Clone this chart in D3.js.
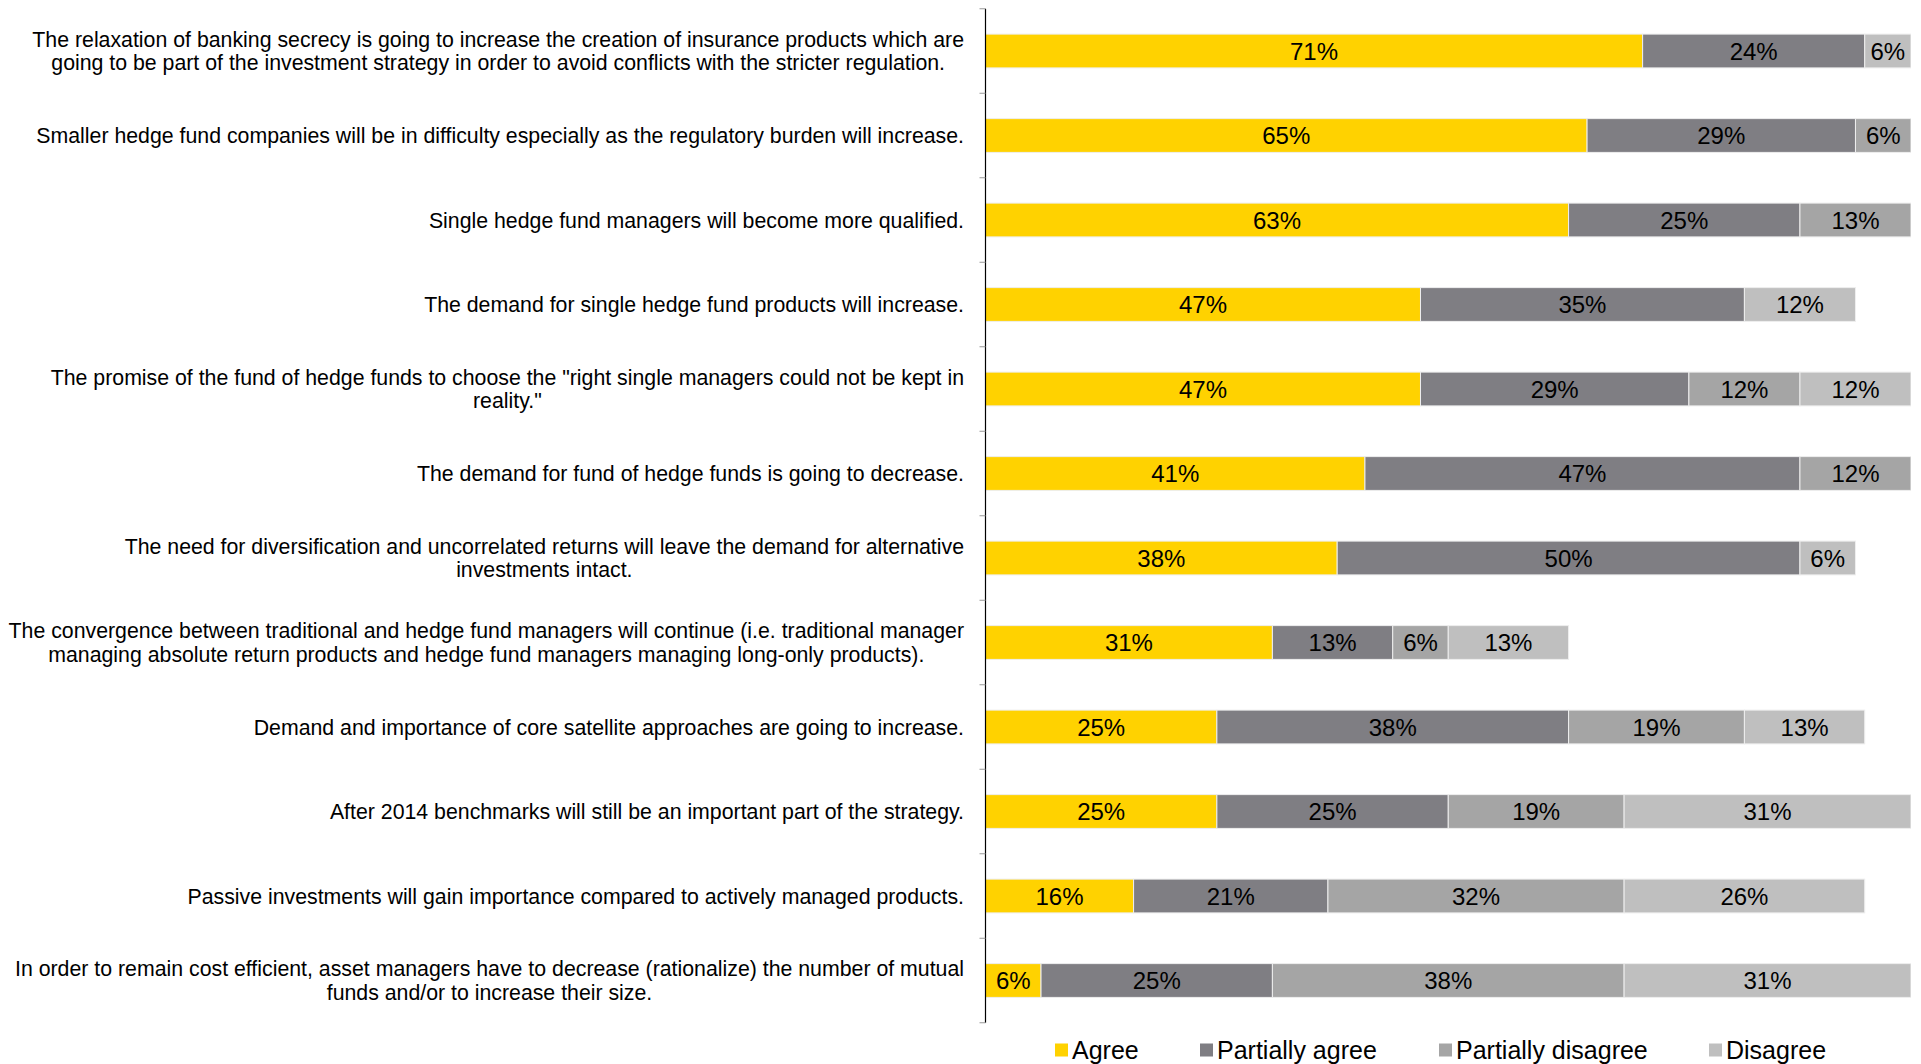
<!DOCTYPE html>
<html>
<head>
<meta charset="utf-8">
<script src="https://cdn.jsdelivr.net/npm/d3@7"></script>
<style>
  html, body { margin: 0; padding: 0; background: #ffffff; }
  svg { display: block; font-family: "Liberation Sans", Arial, Helvetica, sans-serif; }
</style>
</head>
<body>
<svg id="chart" width="1921" height="1064"></svg>
<script>
// Survey statements (one row each, top to bottom); "\n" marks a line break
const statements = [
  "The relaxation of banking secrecy is going to increase the creation of insurance products which are\ngoing to be part of the investment strategy in order to avoid conflicts with the stricter regulation.",
  "Smaller hedge fund companies will be in difficulty especially as the regulatory burden will increase.",
  "Single hedge fund managers will become more qualified.",
  "The demand for single hedge fund products will increase.",
  "The promise of the fund of hedge funds to choose the \"right single managers could not be kept in\nreality.\"",
  "The demand for fund of hedge funds is going to decrease.",
  "The need for diversification and uncorrelated returns will leave the demand for alternative\ninvestments intact.",
  "The convergence between traditional and hedge fund managers will continue (i.e. traditional manager\nmanaging absolute return products and hedge fund managers managing long-only products).",
  "Demand and importance of core satellite approaches are going to increase.",
  "After 2014 benchmarks will still be an important part of the strategy.",
  "Passive investments will gain importance compared to actively managed products.",
  "In order to remain cost efficient, asset managers have to decrease (rationalize) the number of mutual\nfunds and/or to increase their size."
];

const seriesNames = ["Agree", "Partially agree", "Partially disagree", "Disagree"];
const seriesColors = ["#ffd200", "#7f7e83", "#a5a5a5", "#bfbfbf"];

// Share of answers in percent, one value per statement
const agree             = [71, 65, 63, 47, 47, 41, 38, 31, 25, 25, 16, 6];
const partiallyAgree    = [24, 29, 25, 35, 29, 47, 50, 13, 38, 25, 21, 25];
const partiallyDisagree = [ 0,  6, 13,  0, 12, 12,  0,  6, 19, 19, 32, 38];
const disagree          = [ 6,  0,  0, 12, 12,  0,  6, 13, 13, 31, 26, 31];

const seriesValues = [agree, partiallyAgree, partiallyDisagree, disagree];

const rows = statements.map((s, i) => {
  const r = { id: i, label: s };
  seriesNames.forEach((n, k) => { r[n] = seriesValues[k][i]; });
  return r;
});

const svg = d3.select("#chart");

const axisX = 985.5;
const plotRight = 1911;
const plotTop = 8.75;
const plotBottom = 1022.75;

const x = d3.scaleLinear().domain([0, 100]).range([axisX, plotRight]);
const y = d3.scaleBand().domain(rows.map(d => d.id)).range([plotTop, plotBottom]).paddingInner(0.6).paddingOuter(0.3);
const color = d3.scaleOrdinal().domain(seriesNames).range(seriesColors);

const stacked = d3.stack().keys(seriesNames)(rows);

// Clip marks to the 0–100% range of the value axis
svg.append("defs").append("clipPath").attr("id", "plot-clip")
  .append("rect").attr("x", axisX).attr("y", 0).attr("width", plotRight - axisX).attr("height", 1064);

const barsG = svg.append("g").attr("clip-path", "url(#plot-clip)");

const layers = barsG.selectAll("g.layer").data(stacked).join("g")
  .attr("class", "layer")
  .attr("fill", d => color(d.key));

layers.selectAll("rect").data(d => d.filter(s => s[1] - s[0] > 0)).join("rect")
  .attr("x", d => x(d[0]))
  .attr("y", d => y(d.data.id))
  .attr("width", d => Math.max(0, Math.min(x(d[1]), plotRight) - x(d[0])))
  .attr("height", y.bandwidth())
  .attr("stroke", "#eeeeee")
  .attr("stroke-width", 1);

// Value labels centred in the visible part of each segment
const labelsG = svg.append("g");
stacked.forEach(layer => {
  layer.forEach(s => {
    const v = s[1] - s[0];
    if (v <= 0) return;
    const x0 = x(s[0]);
    const x1 = Math.min(x(s[1]), plotRight);
    labelsG.append("text")
      .attr("x", (x0 + x1) / 2)
      .attr("y", y(s.data.id) + y.bandwidth() / 2)
      .attr("dy", "0.36em")
      .attr("text-anchor", "middle")
      .attr("font-size", 24)
      .attr("fill", "#000")
      .text(v + "%");
  });
});

// Category axis: vertical line with short ticks between rows
const axisG = svg.append("g");
axisG.append("line")
  .attr("x1", axisX).attr("x2", axisX)
  .attr("y1", plotTop).attr("y2", plotBottom)
  .attr("stroke", "#000").attr("stroke-width", 1.2);

const boundaries = d3.range(rows.length + 1).map(i => plotTop + i * (plotBottom - plotTop) / rows.length);
axisG.selectAll("line.tick").data(boundaries).join("line")
  .attr("class", "tick")
  .attr("x1", axisX - 6).attr("x2", axisX)
  .attr("y1", d => d).attr("y2", d => d)
  .attr("stroke", "#999").attr("stroke-width", 1);

// Statement labels: block right-aligned to the axis, lines centred within the block
const labelRight = 964;
const lineH = 23.5;
const catG = svg.append("g").attr("font-size", 21.3).attr("fill", "#000");
rows.forEach(r => {
  const lines = r.label.split("\n");
  const cy = y(r.id) + y.bandwidth() / 2;
  const t = catG.append("text").attr("text-anchor", "middle");
  const spans = lines.map((ln, i) => t.append("tspan")
    .attr("y", cy + (i - (lines.length - 1) / 2) * lineH)
    .attr("dy", "0.36em")
    .text(ln));
  const maxW = d3.max(spans, s => s.node().getComputedTextLength());
  spans.forEach(s => s.attr("x", labelRight - maxW / 2));
});

// Legend
const legendItems = [
  { name: "Agree", x: 1055 },
  { name: "Partially agree", x: 1200 },
  { name: "Partially disagree", x: 1439 },
  { name: "Disagree", x: 1709 }
];
const legendY = 1050;
const legG = svg.append("g");
legendItems.forEach(it => {
  legG.append("rect")
    .attr("x", it.x).attr("y", legendY - 6.5)
    .attr("width", 13).attr("height", 13)
    .attr("fill", color(it.name));
  legG.append("text")
    .attr("x", it.x + 17).attr("y", legendY)
    .attr("dy", "0.36em")
    .attr("font-size", 25)
    .attr("fill", "#000")
    .text(it.name);
});
</script>
</body>
</html>
